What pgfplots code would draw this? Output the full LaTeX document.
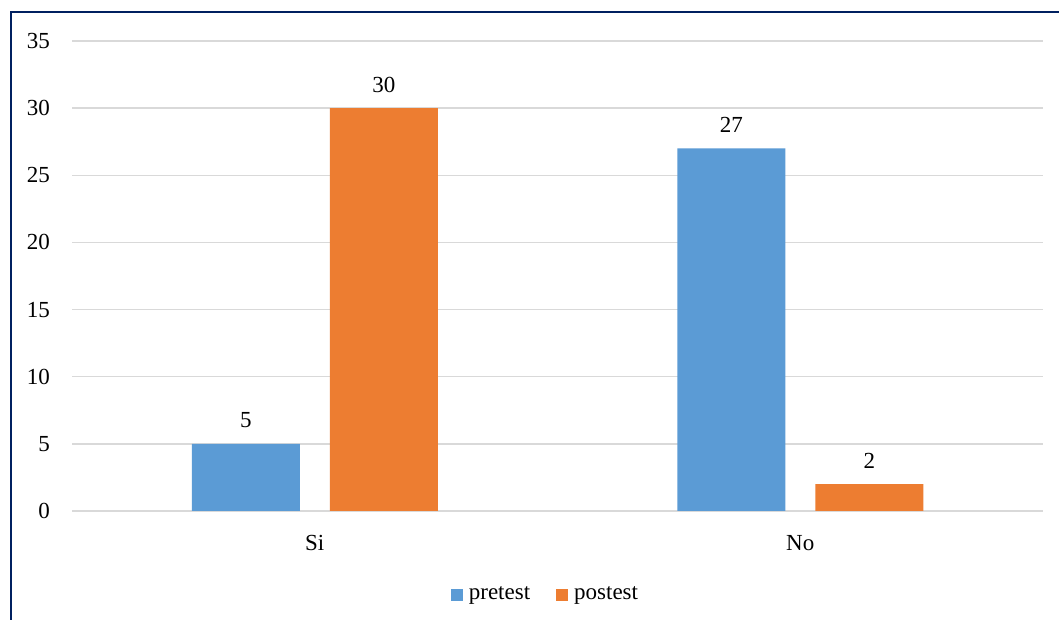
\documentclass[border=0pt]{standalone}
\usepackage{pgfplots}
\pgfplotsset{compat=1.18}
\usepackage{fontspec}
\setmainfont{Liberation Serif}

\definecolor{barblue}{HTML}{5B9BD5}
\definecolor{barorange}{HTML}{ED7D31}
\definecolor{gridgray}{HTML}{D9D9D9}
\definecolor{framenavy}{HTML}{002060}

\begin{document}
\begin{tikzpicture}
\useasboundingbox (0pt,0pt) rectangle (1059pt,620pt);
\fill[white] (0pt,0pt) rectangle (1059pt,620pt);
\draw[framenavy, line width=2.5pt] (11pt,-5pt) -- (11pt,608pt) -- (1070pt,608pt);
\begin{axis}[
    at={(72pt,109pt)},
    anchor=south west,
    scale only axis,
    width=971pt,
    height=470pt,
    ybar=30pt,
    bar width=108pt,
    xmin=-0.5, xmax=1.5,
    ymin=0, ymax=35,
    xtick=data,
    xticklabels={Si, No},
    ytick={0,5,...,35},
    ymajorgrids,
    major grid style={gridgray, line width=1.4pt},
    axis line style={draw=none},
    tick style={draw=none},
    /pgf/number format/assume math mode=true,
    tick label style={font=\fontsize{23}{27}\selectfont, inner sep=0pt},
    yticklabel style={anchor=east, xshift=-22pt},
    xticklabel style={anchor=base, yshift=-35pt},
    nodes near coords,
    every node near coord/.append style={font=\fontsize{23}{27}\selectfont,
        anchor=base, inner sep=0pt, yshift=16pt, text=black},
    legend columns=2,
    legend style={
        at={(axis description cs:0.4876,-0.176)},
        anchor=center,
        draw=none,
        font=\fontsize{23}{27}\selectfont,
        /tikz/every odd column/.append style={column sep=4pt},
        /tikz/every even column/.append style={column sep=24pt},
    },
    legend image code/.code={
        \fill[#1] (0pt,-7pt) rectangle (12pt,5pt);
    },
]
\addplot[fill=barblue, draw=none] coordinates {(0,5) (1,27)};
\addplot[fill=barorange, draw=none] coordinates {(0,30) (1,2)};
\legend{pretest, postest}
\end{axis}
\end{tikzpicture}
\end{document}
